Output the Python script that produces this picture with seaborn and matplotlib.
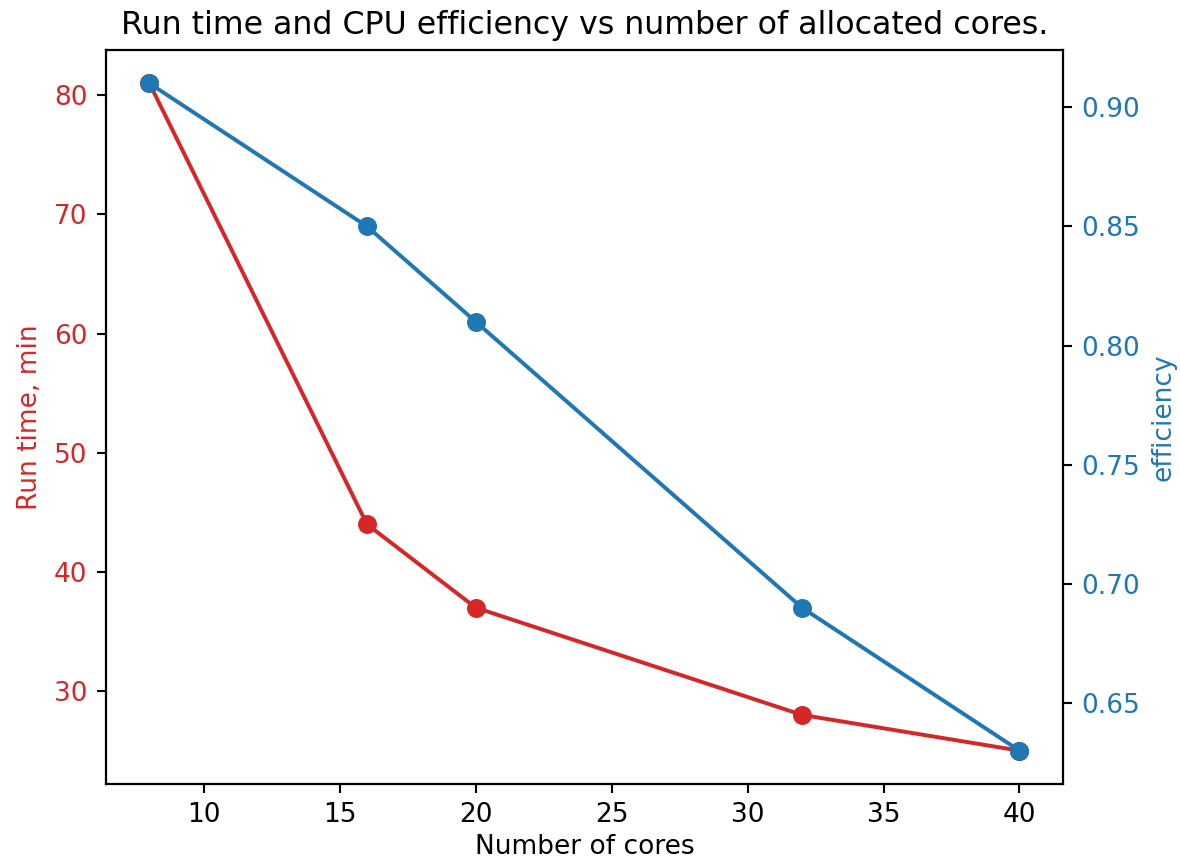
import matplotlib
matplotlib.use("Agg")
import matplotlib.pyplot as plt
import seaborn as sns
import pandas as pd

cores = [8, 16, 20, 32, 40]
run_time = [81, 44, 37, 28, 25]
efficiency = [0.91, 0.85, 0.81, 0.69, 0.63]

plt.rcParams['font.family'] = ['DejaVu Sans']

df = pd.DataFrame({"cores": cores, "run_time": run_time, "efficiency": efficiency})

DPI = 190
fig = plt.figure(figsize=(1180 / DPI, 864 / DPI), dpi=DPI)
ax1 = fig.add_axes([0.0898, 0.0926, 0.811, 0.8495])
red = "tab:red"
blue = "tab:blue"

sns.lineplot(data=df, x="cores", y="run_time", ax=ax1, color=red, marker="o",
             markersize=7.2, markeredgewidth=0, linewidth=1.5)
ax1.set_xlabel("Number of cores", labelpad=2)
ax1.set_ylabel("Run time, min", color=red)
ax1.tick_params(axis="y", labelcolor=red)

ax2 = ax1.twinx()
sns.lineplot(data=df, x="cores", y="efficiency", ax=ax2, color=blue, marker="o",
             markersize=7.2, markeredgewidth=0, linewidth=1.5)
ax2.set_ylabel("efficiency", color=blue)
ax2.tick_params(axis="y", labelcolor=blue)
ax2.set_xlabel("Number of cores", labelpad=2)

ax1.set_title("Run time and CPU efficiency vs number of allocated cores.")
fig.savefig("out.png", dpi=DPI)
